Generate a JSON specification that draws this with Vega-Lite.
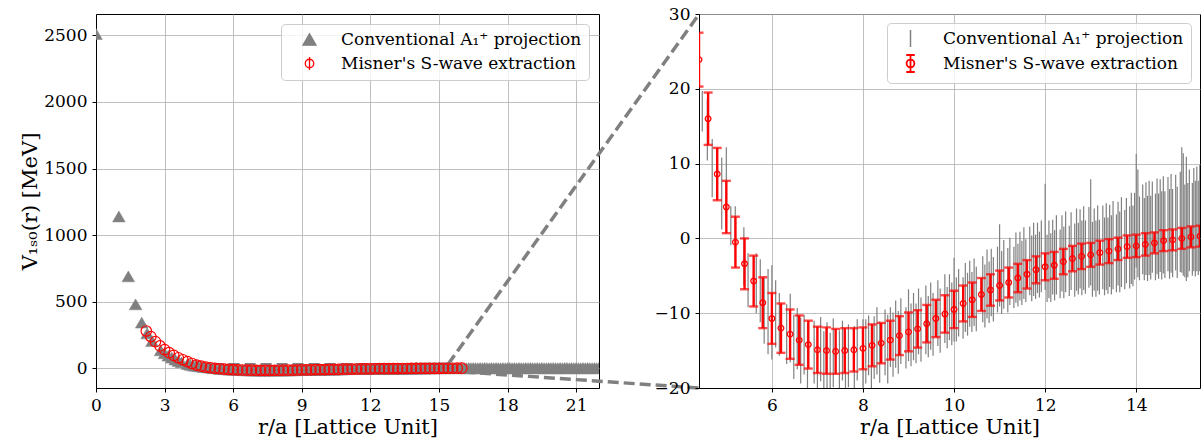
{
"$schema": "https://vega.github.io/schema/vega-lite/v6.json",
"background": "white",
"padding": {"left": 19, "top": 4, "right": 0, "bottom": 0},
"bounds": "flush",
"spacing": 100,
"config": {
  "font": "DejaVu Serif",
  "view": {"stroke": "#000000", "strokeWidth": 1},
  "axis": {"labelFont": "DejaVu Serif", "labelFontSize": 17, "labelColor": "#000000", "titleFont": "DejaVu Serif", "titleFontSize": 21, "titleFontWeight": "normal", "titleColor": "#000000", "tickColor": "#000000", "tickSize": 4, "tickWidth": 1, "domainColor": "#000000", "domainWidth": 1, "gridColor": "#b0b0b0", "gridWidth": 0.8, "labelPadding": 5, "titlePadding": 3, "labelFlush": false, "labelOverlap": false},
  "legend": {"labelFont": "DejaVu Serif", "labelFontSize": 17, "labelColor": "#000000", "labelLimit": 0}
},
"datasets": {
  "conn": [{"id":"a","r":15.4,"v":30},{"id":"a","r":26.38,"v":2660},{"id":"b","r":15.4,"v":-20},{"id":"b","r":26.38,"v":-148}],
  "box": [{"r":4.4,"r2":15.4,"v":-20,"v2":30}],
  "mis": [
{"r":2.2,"v":280,"e":4},{"r":2.4,"v":238,"e":4},{"r":2.6,"v":200,"e":4},{"r":2.8,"v":168,"e":4},{"r":3.0,"v":140,"e":4},{"r":3.2,"v":117,"e":4},{"r":3.4,"v":97,"e":4},{"r":3.6,"v":79,"e":4},{"r":3.8,"v":64,"e":4},{"r":4.0,"v":50,"e":4},{"r":4.2,"v":36,"e":3.8},
{"r":4.4,"v":23.9,"e":3.6},{"r":4.6,"v":16.0,"e":3.5},{"r":4.8,"v":8.6,"e":3.5},{"r":5.0,"v":4.2,"e":3.5},{"r":5.2,"v":-0.5,"e":3.4},{"r":5.4,"v":-3.4,"e":3.4},{"r":5.6,"v":-5.7,"e":3.4},{"r":5.8,"v":-8.6,"e":3.4},{"r":6.0,"v":-10.7,"e":3.4},{"r":6.2,"v":-12.0,"e":3.3},{"r":6.4,"v":-12.8,"e":3.3},{"r":6.6,"v":-13.6,"e":3.3},{"r":6.8,"v":-14.2,"e":3.2},{"r":7.0,"v":-14.9,"e":3.1},{"r":7.2,"v":-15.0,"e":3.1},{"r":7.4,"v":-15.1,"e":3.0},{"r":7.6,"v":-15.0,"e":3.0},{"r":7.8,"v":-14.9,"e":2.9},{"r":8.0,"v":-14.7,"e":2.8},{"r":8.2,"v":-14.3,"e":2.8},{"r":8.4,"v":-14.0,"e":2.7},{"r":8.6,"v":-13.6,"e":2.6},{"r":8.8,"v":-13.0,"e":2.6},{"r":9.0,"v":-12.5,"e":2.6},{"r":9.2,"v":-12.1,"e":2.5},{"r":9.4,"v":-11.4,"e":2.5},{"r":9.6,"v":-10.7,"e":2.5},{"r":9.8,"v":-10.1,"e":2.5},{"r":10.0,"v":-9.5,"e":2.5},{"r":10.2,"v":-8.7,"e":2.4},{"r":10.4,"v":-8.2,"e":2.3},{"r":10.6,"v":-7.5,"e":2.2},{"r":10.8,"v":-6.9,"e":2.1},{"r":11.0,"v":-6.3,"e":2.0},{"r":11.2,"v":-5.9,"e":2.0},{"r":11.4,"v":-5.3,"e":1.9},{"r":11.6,"v":-4.8,"e":1.9},{"r":11.8,"v":-4.2,"e":1.8},{"r":12.0,"v":-3.8,"e":1.8},{"r":12.2,"v":-3.6,"e":1.8},{"r":12.4,"v":-3.1,"e":1.7},{"r":12.6,"v":-2.7,"e":1.7},{"r":12.8,"v":-2.4,"e":1.7},{"r":13.0,"v":-2.2,"e":1.6},{"r":13.2,"v":-1.9,"e":1.6},{"r":13.4,"v":-1.7,"e":1.6},{"r":13.6,"v":-1.4,"e":1.5},{"r":13.8,"v":-1.1,"e":1.5},{"r":14.0,"v":-1.0,"e":1.5},{"r":14.2,"v":-0.8,"e":1.5},{"r":14.4,"v":-0.6,"e":1.4},{"r":14.6,"v":-0.3,"e":1.4},{"r":14.8,"v":-0.2,"e":1.4},{"r":15.0,"v":0.0,"e":1.4},{"r":15.2,"v":0.2,"e":1.4},{"r":15.4,"v":0.3,"e":1.4},{"r":15.6,"v":0.5,"e":1.4},{"r":15.8,"v":0.6,"e":1.4},{"r":16.0,"v":0.7,"e":1.4}
  ],
  "conv": [
{"r":0,"v":2510,"e":5},{"r":1,"v":1140,"e":5},{"r":1.414,"v":690,"e":5},{"r":1.732,"v":480,"e":5},{"r":2,"v":343,"e":4},{"r":2.236,"v":262,"e":4},{"r":2.449,"v":205,"e":4},{"r":2.828,"v":135,"e":4},{"r":3,"v":113,"e":4},{"r":3.162,"v":95,"e":4},{"r":3.317,"v":80,"e":4},{"r":3.464,"v":66,"e":4},{"r":3.606,"v":55,"e":4},{"r":3.742,"v":45,"e":4},{"r":4,"v":32,"e":4},{"r":4.123,"v":27,"e":4},{"r":4.243,"v":22,"e":4},{"r":4.359,"v":19,"e":4},
{"r":4.472,"v":17.0,"e":2.7},{"r":4.583,"v":14.5,"e":4.1},{"r":4.690,"v":9.4,"e":3.9},{"r":4.899,"v":6.0,"e":4.8},{"r":5.000,"v":6.9,"e":5.3},{"r":5.099,"v":1.7,"e":2.6},{"r":5.196,"v":0.5,"e":3.8},{"r":5.385,"v":-2.4,"e":3.9},{"r":5.477,"v":-5.6,"e":3.6},{"r":5.657,"v":-6.0,"e":4.0},{"r":5.745,"v":-7.0,"e":4.2},{"r":5.831,"v":-9.7,"e":4.4},{"r":5.916,"v":-9.8,"e":5.7},
{"r":6.000,"v":-9.9,"e":6.3},{"r":6.083,"v":-10.1,"e":4.5},{"r":6.164,"v":-11.5,"e":4.2},{"r":6.325,"v":-12.8,"e":4.0},{"r":6.403,"v":-12.0,"e":4.6},{"r":6.481,"v":-14.5,"e":4.3},{"r":6.557,"v":-13.4,"e":4.1},{"r":6.633,"v":-15.0,"e":4.4},{"r":6.708,"v":-14.2,"e":4.0},{"r":6.782,"v":-15.8,"e":4.5},{"r":6.928,"v":-15.2,"e":4.2},
{"r":7.000,"v":-16.3,"e":4.5},{"r":7.071,"v":-14.8,"e":4.3},{"r":7.141,"v":-16.5,"e":4.1},{"r":7.211,"v":-15.6,"e":4.4},{"r":7.280,"v":-16.8,"e":4.2},{"r":7.348,"v":-15.3,"e":4.6},{"r":7.483,"v":-16.6,"e":4.3},{"r":7.550,"v":-15.0,"e":4.0},{"r":7.616,"v":-16.9,"e":4.4},{"r":7.681,"v":-15.7,"e":4.2},{"r":7.810,"v":-16.2,"e":4.5},{"r":7.874,"v":-14.9,"e":4.1},
{"r":8.000,"v":-16.0,"e":5.2},{"r":8.062,"v":-15.1,"e":4.3},{"r":8.124,"v":-14.3,"e":4.0},{"r":8.185,"v":-15.8,"e":4.4},{"r":8.246,"v":-14.6,"e":4.2},{"r":8.307,"v":-13.7,"e":4.5},{"r":8.367,"v":-15.2,"e":4.1},{"r":8.485,"v":-13.9,"e":4.4},{"r":8.544,"v":-14.8,"e":4.6},{"r":8.602,"v":-13.2,"e":4.0},{"r":8.660,"v":-14.2,"e":4.3},{"r":8.718,"v":-12.8,"e":4.5},{"r":8.775,"v":-13.9,"e":4.2},{"r":8.832,"v":-12.4,"e":4.4},{"r":8.944,"v":-13.3,"e":4.1},
{"r":9.000,"v":-11.6,"e":4.8},{"r":9.055,"v":-12.9,"e":4.2},{"r":9.110,"v":-11.8,"e":4.5},{"r":9.165,"v":-12.7,"e":4.0},{"r":9.220,"v":-11.1,"e":4.4},{"r":9.274,"v":-12.2,"e":4.3},{"r":9.381,"v":-10.9,"e":4.6},{"r":9.434,"v":-11.8,"e":4.1},{"r":9.487,"v":-10.4,"e":4.5},{"r":9.539,"v":-11.5,"e":4.2},{"r":9.644,"v":-10.0,"e":4.4},{"r":9.695,"v":-11.0,"e":4.3},{"r":9.798,"v":-9.4,"e":4.6},{"r":9.849,"v":-10.6,"e":4.1},{"r":9.899,"v":-9.2,"e":4.4},{"r":9.950,"v":-10.1,"e":4.2},
{"r":10.000,"v":-8.2,"e":5.6},{"r":10.050,"v":-9.5,"e":4.3},{"r":10.100,"v":-8.6,"e":4.5},{"r":10.198,"v":-9.3,"e":4.1},{"r":10.247,"v":-7.9,"e":4.6},{"r":10.296,"v":-8.8,"e":4.2},{"r":10.344,"v":-7.4,"e":4.4},{"r":10.392,"v":-8.5,"e":4.0},{"r":10.440,"v":-7.2,"e":4.5},{"r":10.488,"v":-8.1,"e":4.3},{"r":10.630,"v":-6.8,"e":4.4},{"r":10.677,"v":-7.7,"e":4.2},{"r":10.724,"v":-6.1,"e":4.6},{"r":10.770,"v":-7.2,"e":4.1},{"r":10.817,"v":-5.9,"e":4.5},{"r":10.863,"v":-6.8,"e":4.3},{"r":10.954,"v":-5.5,"e":4.4},
{"r":11.000,"v":-3.6,"e":5.5},{"r":11.045,"v":-5.9,"e":4.2},{"r":11.091,"v":-4.8,"e":4.6},{"r":11.180,"v":-5.6,"e":4.3},{"r":11.225,"v":-4.4,"e":4.5},{"r":11.314,"v":-5.2,"e":4.1},{"r":11.358,"v":-3.9,"e":4.7},{"r":11.402,"v":-4.9,"e":4.2},{"r":11.446,"v":-3.7,"e":4.6},{"r":11.489,"v":-4.6,"e":4.3},{"r":11.533,"v":-3.3,"e":4.8},{"r":11.576,"v":-4.3,"e":4.2},{"r":11.662,"v":-3.0,"e":4.6},{"r":11.705,"v":-4.0,"e":4.4},{"r":11.747,"v":-2.8,"e":4.9},{"r":11.790,"v":-3.8,"e":4.3},{"r":11.832,"v":-2.6,"e":4.7},{"r":11.874,"v":-3.5,"e":4.4},{"r":11.916,"v":-2.4,"e":4.8},
{"r":12.000,"v":0.2,"e":7.1},{"r":12.042,"v":-4.0,"e":4.5},{"r":12.083,"v":-2.8,"e":5.2},{"r":12.124,"v":-3.9,"e":4.6},{"r":12.166,"v":-2.5,"e":5.0},{"r":12.207,"v":-3.6,"e":4.7},{"r":12.247,"v":-2.2,"e":5.3},{"r":12.329,"v":-3.4,"e":4.6},{"r":12.369,"v":-2.0,"e":5.1},{"r":12.410,"v":-3.2,"e":4.8},{"r":12.450,"v":-1.8,"e":5.4},{"r":12.530,"v":-3.0,"e":4.7},{"r":12.570,"v":-1.7,"e":5.2},{"r":12.649,"v":-2.9,"e":4.9},{"r":12.689,"v":-1.5,"e":5.5},{"r":12.728,"v":-2.7,"e":4.8},{"r":12.767,"v":-1.4,"e":5.3},{"r":12.806,"v":-2.6,"e":5.0},{"r":12.845,"v":-1.3,"e":5.6},{"r":12.884,"v":-2.5,"e":4.9},{"r":12.961,"v":-1.2,"e":5.4},
{"r":13.000,"v":0.8,"e":7.1},{"r":13.038,"v":-2.8,"e":5.0},{"r":13.077,"v":-1.5,"e":5.5},{"r":13.115,"v":-2.7,"e":5.1},{"r":13.153,"v":-1.3,"e":5.7},{"r":13.191,"v":-2.5,"e":5.0},{"r":13.266,"v":-1.2,"e":5.6},{"r":13.304,"v":-2.4,"e":5.2},{"r":13.342,"v":-1.1,"e":5.8},{"r":13.379,"v":-2.3,"e":5.1},{"r":13.416,"v":-1.0,"e":5.5},{"r":13.454,"v":-2.2,"e":5.3},{"r":13.491,"v":-0.9,"e":5.9},{"r":13.565,"v":-2.0,"e":5.2},{"r":13.601,"v":-0.7,"e":5.6},{"r":13.638,"v":-1.8,"e":5.4},{"r":13.675,"v":-0.5,"e":6.0},{"r":13.748,"v":-1.5,"e":5.3},{"r":13.784,"v":-0.3,"e":5.7},{"r":13.856,"v":-1.2,"e":5.5},{"r":13.892,"v":0.0,"e":6.1},{"r":13.928,"v":-1.0,"e":5.4},{"r":13.964,"v":0.3,"e":5.8},
{"r":14.000,"v":3.7,"e":7.6},{"r":14.036,"v":2.0,"e":7.2},{"r":14.071,"v":0.0,"e":5.6},{"r":14.142,"v":1.2,"e":6.0},{"r":14.177,"v":-0.1,"e":5.5},{"r":14.213,"v":1.3,"e":6.2},{"r":14.248,"v":0.0,"e":5.7},{"r":14.283,"v":1.4,"e":6.3},{"r":14.318,"v":0.1,"e":5.6},{"r":14.353,"v":1.5,"e":6.1},{"r":14.422,"v":0.2,"e":5.8},{"r":14.457,"v":1.6,"e":6.4},{"r":14.491,"v":0.3,"e":5.7},{"r":14.526,"v":1.7,"e":6.2},{"r":14.560,"v":0.4,"e":5.9},{"r":14.595,"v":1.8,"e":6.5},{"r":14.629,"v":0.5,"e":5.8},{"r":14.697,"v":1.9,"e":6.3},{"r":14.731,"v":0.6,"e":6.0},{"r":14.765,"v":2.0,"e":6.6},{"r":14.799,"v":0.7,"e":5.9},{"r":14.866,"v":2.1,"e":6.4},{"r":14.900,"v":0.8,"e":6.1},{"r":14.967,"v":2.2,"e":6.7},
{"r":15.000,"v":3.8,"e":8.4},{"r":15.033,"v":3.2,"e":8.2},{"r":15.067,"v":1.0,"e":6.2},{"r":15.100,"v":2.6,"e":8.3},{"r":15.133,"v":1.1,"e":6.3},{"r":15.166,"v":2.4,"e":6.8},{"r":15.232,"v":1.2,"e":6.2},{"r":15.264,"v":2.5,"e":6.9},{"r":15.297,"v":1.3,"e":6.4},{"r":15.330,"v":2.6,"e":7.0},{"r":15.362,"v":1.4,"e":6.3},{"r":15.395,"v":2.7,"e":7.1},
{"r":15.5,"v":1.2,"e":7},{"r":15.6,"v":2.0,"e":7},{"r":15.7,"v":0.6,"e":7},{"r":15.8,"v":1.8,"e":7},{"r":15.9,"v":0.9,"e":7},{"r":16.0,"v":2.4,"e":7},{"r":16.1,"v":1.1,"e":7},{"r":16.2,"v":0.4,"e":7},{"r":16.3,"v":1.9,"e":7},{"r":16.4,"v":0.8,"e":7},{"r":16.5,"v":2.2,"e":7},{"r":16.6,"v":1.3,"e":7},{"r":16.7,"v":0.2,"e":7},{"r":16.8,"v":1.6,"e":7},{"r":16.9,"v":0.7,"e":7},{"r":17.0,"v":2.5,"e":7},{"r":17.1,"v":1.0,"e":7},{"r":17.2,"v":0.3,"e":7},{"r":17.3,"v":1.7,"e":7},{"r":17.4,"v":0.9,"e":7},{"r":17.5,"v":2.1,"e":7},{"r":17.6,"v":1.2,"e":7},{"r":17.7,"v":0.5,"e":7},{"r":17.8,"v":1.5,"e":7},{"r":17.9,"v":0.6,"e":7},{"r":18.0,"v":2.3,"e":7},{"r":18.1,"v":1.4,"e":7},{"r":18.2,"v":0.2,"e":7},{"r":18.3,"v":1.8,"e":7},{"r":18.4,"v":0.8,"e":7},{"r":18.5,"v":2.0,"e":7},{"r":18.6,"v":1.1,"e":7},{"r":18.7,"v":0.4,"e":7},{"r":18.8,"v":1.6,"e":7},{"r":18.9,"v":0.7,"e":7},{"r":19.0,"v":2.4,"e":7},{"r":19.1,"v":1.3,"e":7},{"r":19.2,"v":0.3,"e":7},{"r":19.3,"v":1.9,"e":7},{"r":19.4,"v":0.9,"e":7},{"r":19.5,"v":2.2,"e":7},{"r":19.6,"v":1.0,"e":7},{"r":19.7,"v":0.5,"e":7},{"r":19.8,"v":1.7,"e":7},{"r":19.9,"v":0.6,"e":7},{"r":20.0,"v":2.6,"e":7},{"r":20.1,"v":1.2,"e":7},{"r":20.2,"v":0.1,"e":7},{"r":20.3,"v":1.5,"e":7},{"r":20.4,"v":0.8,"e":7},{"r":20.5,"v":2.1,"e":7},{"r":20.6,"v":1.4,"e":7},{"r":20.7,"v":0.4,"e":7},{"r":20.8,"v":1.8,"e":7},{"r":20.9,"v":0.7,"e":7},{"r":21.0,"v":2.3,"e":7},{"r":21.1,"v":1.1,"e":7},{"r":21.2,"v":0.3,"e":7},{"r":21.3,"v":1.6,"e":7},{"r":21.4,"v":0.9,"e":7},{"r":21.5,"v":2.0,"e":7},{"r":21.6,"v":1.2,"e":7},{"r":21.7,"v":0.5,"e":7},{"r":21.8,"v":1.7,"e":7},{"r":21.9,"v":0.6,"e":7},{"r":22.0,"v":2.2,"e":7}
  ]
},
"resolve": {"scale": {"color": "independent", "fill": "independent", "stroke": "independent", "shape": "independent"}, "legend": {"color": "independent", "fill": "independent", "stroke": "independent", "shape": "independent"}},
"hconcat": [
{
  "width": 503, "height": 374,
  "layer": [
    {
      "data": {"name": "conn"},
      "mark": {"type": "line", "clip": false, "color": "#808080", "strokeWidth": 3.5, "strokeDash": [11, 5]},
      "encoding": {
        "x": {"field": "r", "type": "quantitative", "scale": {"domain": [0, 22], "nice": false, "zero": false}, "axis": {"values": [0,3,6,9,12,15,18,21], "format": "d", "title": "r/a [Lattice Unit]"}},
        "y": {"field": "v", "type": "quantitative", "scale": {"domain": [-148, 2660], "nice": false, "zero": false}, "axis": {"values": [0,500,1000,1500,2000,2500], "format": "d", "title": "V₁ₛ₀(r) [MeV]"}},
        "detail": {"field": "id"}
      }
    },
    {
      "mark": {"type": "rule", "color": "#000000", "strokeWidth": 1.5},
      "encoding": {"y": {"datum": 0}}
    },
    {
      "data": {"name": "conv"},
      "mark": {"type": "point", "filled": true, "size": 160, "strokeWidth": 0.5, "opacity": 1, "clip": true},
      "encoding": {
        "x": {"field": "r", "type": "quantitative"},
        "y": {"field": "v", "type": "quantitative"},
        "fill": {"datum": "Conventional A₁⁺ projection", "scale": {"domain": ["Conventional A₁⁺ projection", "Misner's S-wave extraction"], "range": ["#808080", "transparent"]},
          "legend": {"title": null, "orient": "top-right", "offset": 10, "padding": 7, "rowPadding": 6, "symbolSize": 170, "symbolStrokeWidth": 1.3, "symbolOffset": 13, "labelOffset": 23, "labelLimit": 0, "strokeColor": "#cccccc", "fillColor": "rgba(255,255,255,0.8)", "cornerRadius": 4, "labelFontSize": 17}},
        "stroke": {"datum": "Conventional A₁⁺ projection", "scale": {"domain": ["Conventional A₁⁺ projection", "Misner's S-wave extraction"], "range": ["#808080", "#ff0000"]},
          "legend": {"title": null, "orient": "top-right", "offset": 10, "padding": 7, "rowPadding": 6, "symbolSize": 170, "symbolStrokeWidth": 1.3, "symbolOffset": 13, "labelOffset": 23, "labelLimit": 0, "strokeColor": "#cccccc", "fillColor": "rgba(255,255,255,0.8)", "cornerRadius": 4, "labelFontSize": 17}},
        "shape": {"datum": "Conventional A₁⁺ projection", "scale": {"domain": ["Conventional A₁⁺ projection", "Misner's S-wave extraction"], "range": ["triangle-up", "M0,-1L0,1M0.65,0A0.65,0.65 0 1 1 -0.65,0A0.65,0.65 0 1 1 0.65,0"]},
          "legend": {"title": null, "orient": "top-right", "offset": 10, "padding": 7, "rowPadding": 6, "symbolSize": 170, "symbolStrokeWidth": 1.3, "symbolOffset": 13, "labelOffset": 23, "labelLimit": 0, "strokeColor": "#cccccc", "fillColor": "rgba(255,255,255,0.8)", "cornerRadius": 4, "labelFontSize": 17}}
      }
    },
    {
      "data": {"name": "box"},
      "mark": {"type": "rect", "filled": false, "color": "#808080", "strokeWidth": 2.5, "strokeDash": [11, 5], "clip": true},
      "encoding": {
        "x": {"field": "r", "type": "quantitative"}, "x2": {"field": "r2"},
        "y": {"field": "v", "type": "quantitative"}, "y2": {"field": "v2"}
      }
    },
    {
      "data": {"name": "mis"},
      "mark": {"type": "point", "shape": "circle", "filled": false, "size": 110, "strokeWidth": 1.2, "opacity": 1, "clip": true},
      "encoding": {
        "x": {"field": "r", "type": "quantitative"},
        "y": {"field": "v", "type": "quantitative"},
        "stroke": {"datum": "Misner's S-wave extraction"},
        "fill": {"datum": "Misner's S-wave extraction"}
      }
    }
  ]
},
{
  "width": 501, "height": 374,
  "layer": [
    {
      "data": {"name": "conv"},
      "mark": {"type": "errorbar", "thickness": 1.2, "clip": true},
      "encoding": {
        "x": {"field": "r", "type": "quantitative", "scale": {"domain": [4.4, 15.4], "nice": false, "zero": false}, "axis": {"values": [6,8,10,12,14], "format": "d", "title": "r/a [Lattice Unit]"}},
        "y": {"field": "v", "type": "quantitative", "scale": {"domain": [-20, 30], "nice": false, "zero": false}, "axis": {"values": [-20,-10,0,10,20,30], "format": "d", "title": null}},
        "yError": {"field": "e"},
        "color": {"datum": "Conventional A₁⁺ projection", "scale": {"domain": ["Conventional A₁⁺ projection", "Misner's S-wave extraction"], "range": ["#808080", "#ff0000"]},
          "legend": {"title": null, "orient": "top-right", "offset": 9, "padding": 7, "rowPadding": 1, "symbolSize": 289, "symbolOffset": 8, "labelOffset": 24, "labelLimit": 0, "strokeColor": "#cccccc", "fillColor": "rgba(255,255,255,0.8)", "cornerRadius": 4, "labelFontSize": 17,
            "encode": {"symbols": {"update": {
              "shape": {"signal": "datum.index === 0 ? 'M0,-1L0,1' : 'M0,-1L0,1M-0.5,-1L0.5,-1M-0.5,1L0.5,1M0.46,0A0.46,0.46 0 1 1 -0.46,0A0.46,0.46 0 1 1 0.46,0'"},
              "fill": {"value": "transparent"},
              "fillOpacity": {"value": 0},
              "stroke": {"signal": "datum.index === 0 ? '#808080' : '#ff0000'"},
              "strokeWidth": {"signal": "datum.index === 0 ? 1.5 : 1.8"},
              "size": {"value": 289},
              "opacity": {"value": 1}
            }}}
          }
        }
      }
    },
    {
      "mark": {"type": "rule", "color": "#000000", "strokeWidth": 1.5},
      "encoding": {"y": {"datum": 0}}
    },
    {
      "data": {"name": "mis"},
      "mark": {"type": "errorbar", "thickness": 2.4, "ticks": {"size": 9}, "clip": true},
      "encoding": {
        "x": {"field": "r", "type": "quantitative"},
        "y": {"field": "v", "type": "quantitative"},
        "yError": {"field": "e"},
        "color": {"datum": "Misner's S-wave extraction"}
      }
    },
    {
      "data": {"name": "mis"},
      "mark": {"type": "point", "shape": "circle", "filled": false, "size": 32, "strokeWidth": 1.3, "opacity": 1, "clip": true},
      "encoding": {
        "x": {"field": "r", "type": "quantitative"},
        "y": {"field": "v", "type": "quantitative"},
        "color": {"datum": "Misner's S-wave extraction"}
      }
    }
  ]
}
]
}
